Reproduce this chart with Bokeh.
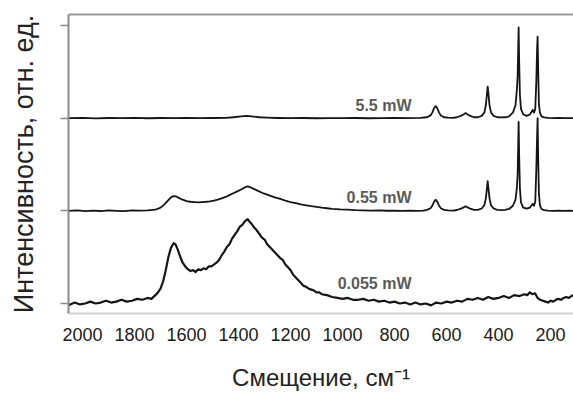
from bokeh.plotting import figure
from bokeh.models import Range1d, FixedTicker, LinearAxis, Label
from bokeh.embed import file_html
from bokeh.resources import INLINE

# ---------------- data ----------------
x_ticks = [2000, 1800, 1600, 1400, 1200, 1000, 800, 600, 400, 200]
y_ticks = [0, 100, 200, 300]
series_names = ["5.5 mW", "0.55 mW", "0.055 mW"]

# 0.055 mW (baseline 0)
shift_0055 = [
    2054, 2030, 2010, 1990, 1970, 1950, 1930, 1910, 1890, 1870,
    1850, 1830, 1810, 1790, 1770, 1750, 1735, 1720, 1710, 1700,
    1690, 1680, 1670, 1660, 1650, 1643, 1635, 1625, 1615, 1605,
    1595, 1585, 1575, 1565, 1555, 1545, 1535, 1525, 1515, 1505,
    1495, 1485, 1475, 1465, 1455, 1445, 1435, 1425, 1415, 1405,
    1395, 1385, 1375, 1365, 1357, 1350, 1340, 1330, 1320, 1310,
    1300, 1290, 1280, 1270, 1260, 1250, 1240, 1230, 1220, 1210,
    1200, 1190, 1180, 1170, 1160, 1150, 1140, 1130, 1120, 1110,
    1100, 1090, 1080, 1060, 1040, 1020, 1000, 980, 960, 940,
    920, 900, 880, 860, 840, 820, 800, 780, 760, 740,
    720, 700, 680, 660, 640, 620, 600, 580, 560, 540,
    520, 500, 480, 460, 440, 420, 400, 380, 360, 340,
    320, 300, 290, 280, 270, 260, 250, 240, 230, 220,
    210, 200, 190, 180, 170, 160, 150, 140, 130, 120,
    112,
]
int_0055 = [
    -2, 1, -1, 0, 2, 0, 1, 3, 1, 2,
    4, 2, 3, 5, 4, 6, 5, 9, 12, 16,
    24, 36, 50, 60, 65, 64, 59, 51, 44, 40,
    37, 35, 36, 34, 37, 36, 38, 37, 40, 40,
    42, 44, 47, 52, 56, 61, 64, 70, 74, 78,
    83, 85, 89, 91, 88, 86, 82, 79, 75, 71,
    69, 64, 61, 58, 55, 52, 49, 47, 42, 39,
    36, 31, 28, 25, 22, 19, 18, 16, 15, 14,
    12, 12, 10, 9, 7, 6, 5, 6, 4, 4,
    5, 3, 4, 2, 3, 1, 2, 0, 1, -1,
    1, -1, 0, -2, 1, 0, 2, 1, 3, 2,
    5, 4, 6, 4, 7, 5, 6, 8, 6, 9,
    8, 10, 9, 12, 10, 11, 6, 4, 3, 2,
    1, 3, 2, 4, 5, 4, 6, 7, 6, 8,
    9,
]

# 0.55 mW (baseline 100)
shift_055 = [
    2054, 2020, 1990, 1960, 1930, 1900, 1870, 1840, 1810, 1780,
    1750, 1720, 1700, 1685, 1670, 1660, 1650, 1640, 1630, 1615,
    1600, 1585, 1570, 1555, 1540, 1525, 1510, 1495, 1480, 1465,
    1450, 1435, 1420, 1405, 1390, 1378, 1368, 1360, 1350, 1340,
    1325, 1310, 1295, 1280, 1260, 1240, 1220, 1200, 1180, 1160,
    1140, 1120, 1100, 1080, 1060, 1040, 1010, 980, 950, 920,
    890, 860, 830, 800, 770, 740, 710, 690, 675, 662,
    655, 648, 642, 636, 629, 622, 610, 595, 575, 560,
    545, 535, 527, 519, 509, 495, 480, 465, 455, 449,
    445, 442, 439, 435, 429, 419, 405, 390, 375, 360,
    345, 335, 330, 327, 325, 323, 321, 318, 314, 305,
    292, 280, 273, 269, 264, 259, 255, 252, 250, 248,
    245, 241, 235, 225, 210, 190, 170, 150, 130, 112,
]
int_055 = [
    100, 100.5, 99.7, 100.3, 99.8, 100.4, 100, 99.6, 100.5, 100.2,
    100.6, 101.2, 103.5, 107, 111.5, 114.5, 116, 115.5, 114, 112,
    110.5, 109.8, 109.5, 109.2, 109.5, 109.8, 110.3, 111, 112, 113.5,
    115, 117, 119, 121, 123, 125, 126.3, 126, 124.8, 123.5,
    121.5, 119.5, 118, 116.5, 114.5, 112.8, 111, 109.5, 108.2, 107,
    106, 105, 104.2, 103.4, 102.8, 102.2, 101.6, 101.2, 100.8, 100.6,
    100.3, 100.5, 100.1, 100.3, 99.9, 100.2, 100, 100.3, 101, 102.8,
    105.5, 110, 112, 110, 105.5, 102.8, 101, 100.5, 100.3, 100.9,
    102.3, 103.7, 105, 103.7, 102.3, 101, 101, 102.5, 106, 113.5,
    124, 132, 124, 113.5, 106, 102.5, 101, 100.8, 101, 102,
    105.5, 112, 124, 138, 165, 196, 160, 124, 109, 103.5,
    102.3, 103.5, 106, 107.5, 105.5, 110, 145, 180, 200, 160,
    118, 106, 102, 100.8, 100.3, 100, 100.2, 100, 100.1, 100,
]

# 5.5 mW (baseline 200)
shift_55 = [
    2054, 2000, 1950, 1900, 1850, 1800, 1750, 1700, 1650, 1600,
    1550, 1500, 1450, 1420, 1390, 1370, 1350, 1320, 1290, 1250,
    1200, 1150, 1100, 1050, 1000, 950, 900, 850, 800, 750,
    700, 675, 662, 655, 648, 642, 636, 629, 622, 610,
    595, 575, 560, 545, 535, 527, 519, 509, 495, 480,
    465, 455, 449, 445, 442, 439, 435, 429, 419, 405,
    390, 375, 360, 345, 335, 330, 327, 325, 323, 321,
    318, 314, 305, 292, 280, 273, 269, 264, 259, 255,
    252, 250, 248, 245, 241, 235, 225, 210, 190, 170,
    150, 130, 112,
]
int_55 = [
    200, 200.3, 199.8, 200.2, 200, 200.3, 199.9, 200.2, 200, 200.3,
    200, 200.2, 200.4, 201, 202, 202.5, 202, 201, 200.6, 200.2,
    200, 200.2, 199.9, 200.1, 200, 200.2, 199.9, 200, 200.2, 200,
    200.3, 201, 203, 206, 211, 213, 211, 206, 203, 201,
    200.5, 200.3, 201, 202.5, 204, 205.5, 204, 202.5, 201, 201,
    202.5, 206, 214, 226, 234, 226, 214, 206, 202.5, 201,
    200.8, 201, 202, 206, 214, 230, 244, 270, 298, 262,
    225, 210, 204, 202.5, 204, 207, 209, 206, 210, 240,
    275, 288, 255, 215, 206, 202, 200.8, 200.3, 200, 200.2,
    200, 200.1, 200,
]

# ---------------- figure ----------------
FONT = "Liberation Sans"

p = figure(width=573, height=394, output_backend="svg", toolbar_location=None,
           x_range=Range1d(2054, 112), y_range=Range1d(-10.8, 311.9),
           min_border_left=68, min_border_right=0, min_border_top=14,
           min_border_bottom=81)
p.outline_line_color = None
p.grid.visible = False
p.background_fill_color = "white"
p.border_fill_color = "white"

xa = p.xaxis[0]
xa.ticker = FixedTicker(ticks=x_ticks)
xa.major_tick_out = 0
xa.major_tick_in = 0
xa.major_tick_line_color = None
xa.minor_tick_line_color = None
xa.axis_line_color = "#d2d2d2"
xa.axis_line_width = 2
xa.major_label_text_font = FONT
xa.major_label_text_font_size = "18px"
xa.major_label_text_color = "#1a1a1a"
xa.major_label_standoff = 14
xa.axis_label = "Смещение, см⁻¹"
xa.axis_label_text_font = FONT
xa.axis_label_text_font_size = "24px"
xa.axis_label_text_font_style = "normal"
xa.axis_label_text_color = "#222222"
xa.axis_label_standoff = 20

ya = p.yaxis[0]
ya.ticker = FixedTicker(ticks=y_ticks)
ya.major_label_overrides = {t: "" for t in y_ticks}
ya.major_label_text_font_size = "10px"
ya.major_label_standoff = 0
ya.major_tick_out = 8
ya.major_tick_in = 0
ya.major_tick_line_color = "#8a8a8a"
ya.major_tick_line_width = 1.5
ya.minor_tick_line_color = None
ya.axis_line_color = "#8a8a8a"
ya.axis_line_width = 2
ya.axis_label = "Интенсивность, отн. ед."
ya.axis_label_text_font = FONT
ya.axis_label_text_font_size = "27px"
ya.axis_label_text_font_style = "normal"
ya.axis_label_text_color = "#222222"
ya.axis_label_standoff = 22

top = LinearAxis(ticker=FixedTicker(ticks=[]), major_label_standoff=0,
                 major_tick_out=0, major_tick_in=0,
                 major_tick_line_color=None, minor_tick_line_color=None,
                 axis_line_color="#9a9a9a", axis_line_width=2)
p.add_layout(top, "above")

widths = [2.2, 1.8, 1.8]
for (xs, ys), lw in zip([(shift_0055, int_0055), (shift_055, int_055), (shift_55, int_55)], widths):
    p.line(xs, ys, line_color="#151515", line_width=lw, line_join="round")

label_y = [213.7, 114.4, 21.6]
for name, yy in zip(series_names, label_y):
    p.add_layout(Label(x=735, y=yy, text=name, text_align="right",
                       text_baseline="middle", text_font=FONT,
                       text_font_size="16px", text_font_style="bold",
                       text_color="#5a5a5a"))

open("out.html", "w").write(file_html(p, INLINE))
